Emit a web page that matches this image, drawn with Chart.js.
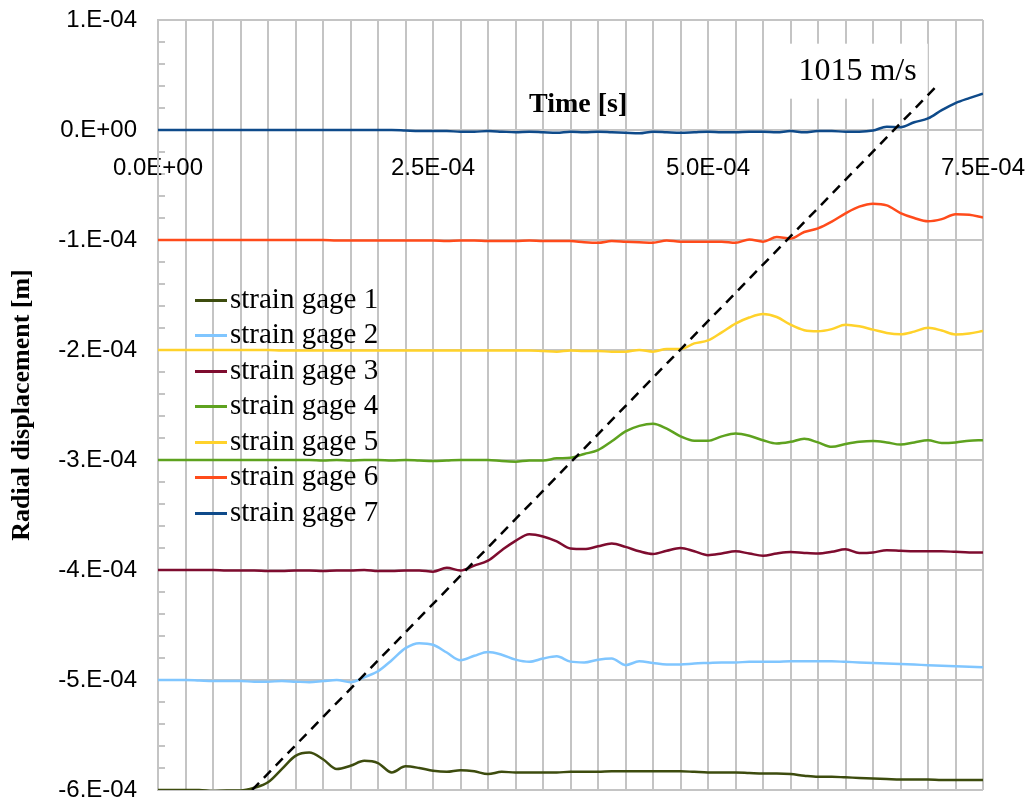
<!DOCTYPE html>
<html>
<head>
<meta charset="utf-8">
<script src="https://cdn.jsdelivr.net/npm/chart.js@4.4.1/dist/chart.umd.min.js"></script>
<style>
  html, body { margin: 0; padding: 0; background: #fff; }
</style>
</head>
<body>
<canvas id="chart" width="1033" height="803"></canvas>
<script>
// time in microseconds, displacement in micrometres (ticks are printed in s and m)
const timeUs = [
  0, 12.5, 25, 37.5, 50, 62.5, 75, 87.5,
  100, 112.5, 125, 137.5, 150, 162.5, 175, 187.5,
  200, 212.5, 225, 237.5, 250, 262.5, 275, 287.5,
  300, 312.5, 325, 337.5, 350, 362.5, 375, 387.5,
  400, 412.5, 425, 437.5, 450, 462.5, 475, 487.5,
  500, 512.5, 525, 537.5, 550, 562.5, 575, 587.5,
  600, 612.5, 625, 637.5, 650, 662.5, 675, 687.5,
  700, 712.5, 725, 737.5, 750
];

const gage1 = [
  -600, -600, -600, -600, -601, -600.5, -600.5, -598,
  -593, -581, -569, -566, -572, -581, -578, -573.5,
  -575.5, -584, -578.5, -580, -582.5, -583.5, -582, -583,
  -585.5, -583.5, -584, -584, -584, -584, -583.5, -583.5,
  -583.5, -583, -583, -583, -583, -583, -583, -583.5,
  -584, -584, -584, -584.5, -585, -585, -585.5, -587,
  -588, -588, -588.5, -589, -589.5, -590, -590.5, -590.5,
  -590.5, -591, -591, -591, -591
];
const gage2 = [
  -500, -500, -500, -500.5, -501, -501, -501, -501.5,
  -501.5, -501, -501.5, -502, -501, -500, -502, -497.5,
  -492, -482, -471, -466.5, -468, -475, -482, -478,
  -474.5, -477, -481.5, -483.5, -480.5, -478.5, -483.3, -484,
  -481.5, -480.5, -486.5, -483, -484.5, -485.8, -485.8, -485,
  -484.5, -484, -484, -483.5, -483.5, -483.5, -483, -483,
  -483, -483, -483.5, -484, -484.5, -485, -485.5, -486,
  -486.5, -487, -487.5, -488, -488.5
];
const gage3 = [
  -400, -400, -400, -400, -400, -400.5, -400.5, -400.5,
  -401, -401, -400.5, -400.5, -401, -400.5, -400.5, -400,
  -401, -401, -400.5, -400.5, -401.5, -398, -400.5, -396,
  -391.5, -382, -373.5, -367.5, -369.5, -374, -380.5, -381,
  -378.5, -376, -379, -383, -385.5, -382.5, -380, -383,
  -386.5, -385, -383, -385, -387, -385, -383.7, -384.5,
  -385, -383.5, -381.2, -384.5, -384, -382, -382.5, -383,
  -383, -383, -383.5, -384, -384
];
const gage4 = [
  -300, -300, -300, -300, -300, -300, -300, -300,
  -300, -300, -300, -300, -300.5, -300, -300.5, -300,
  -300, -300.5, -300, -300.5, -301, -300.5, -300, -300,
  -300, -301, -301.5, -300.5, -300.5, -298.5, -298, -294.5,
  -291, -283, -274, -269, -267, -271.5, -278.5, -282.5,
  -282.5, -278.5, -276, -278, -282, -285, -283.5, -280.7,
  -284, -288, -285.5, -283.5, -282.7, -284, -286, -284,
  -282, -284.5, -284, -282.5, -282
];
const gage5 = [
  -200, -200, -200, -200, -200, -200, -200, -200,
  -200, -200.5, -200.5, -200.5, -200.5, -200.5, -200.5, -200.5,
  -200.5, -200.5, -200.5, -200.5, -200.5, -200.5, -200.5, -200.5,
  -200.5, -200.5, -200.5, -200.5, -201, -201.5, -200.5, -201,
  -201, -201.5, -201.5, -200, -201.5, -199, -199.2, -194,
  -191.3, -184, -176, -170.5, -167.3, -170, -177, -182,
  -183, -181, -177, -178.5, -181.5, -184.5, -185.7, -183.3,
  -179.8, -182.3, -185.8, -185, -182.7
];
const gage6 = [
  -100, -100, -100, -100, -100, -100, -100, -100,
  -100, -100, -100, -100, -100, -100.5, -100.5, -100.5,
  -100.5, -100.5, -100.5, -100.5, -100.5, -101, -100.5, -100.5,
  -101, -101, -101, -100.5, -101, -101, -101, -102,
  -102.5, -101, -101.5, -102, -102.5, -100.5, -101.5, -101.5,
  -101.5, -101.5, -102.5, -99.5, -101.5, -97.3, -98.8, -92.7,
  -89.4, -83.3, -75.8, -69.7, -67, -68.5, -75.5, -80,
  -83, -81, -76.5, -77, -79.5
];
const gage7 = [
  0, 0, 0, 0, 0, 0, 0, 0,
  0, 0, 0, 0, 0, 0, 0, 0,
  0, 0, -0.5, -1, -1, -1, -1.5, -1.5,
  -1, -1.5, -2, -1.5, -2, -2.5, -1.5, -2,
  -1.5, -2, -2.5, -3, -1.5, -2, -2.5, -2,
  -1.5, -2, -2, -1.5, -1.5, -2, -1, -2,
  -1, -1, -1.5, -1.5, -0.5, 3, 2.5, 7,
  10.5, 18, 24.5, 29, 33
];

// dashed wave-front line
const frontT = [85.5, 706];
const frontY = [-600, 38];

const gageNames = ['strain gage 1', 'strain gage 2', 'strain gage 3', 'strain gage 4',
  'strain gage 5', 'strain gage 6', 'strain gage 7'];
const speedLabel = '1015 m/s';
const xTitle = 'Time [s]';
const yTitle = 'Radial displacement [m]';

const gageColors = ['#3d4c0e', '#80c6ff', '#7e0c2f', '#5ea21f', '#ffd22b', '#ff4b1b', '#0e4a8a'];
const GRID = '#c4c4c4';
const SANS = '"Liberation Sans", Arial, sans-serif';
const SERIF = '"Liberation Serif", "Times New Roman", serif';

// 2.5e-4 -> "2.5E-04", 1e-4 with 0 digits -> "1.E-04"
function fmtExp(value, digits) {
  const [m, e] = value.toExponential(digits).split('e');
  const ex = parseInt(e, 10);
  const mant = digits === 0 ? m + '.' : m;
  return mant + 'E' + (ex < 0 ? '-' : '+') + String(Math.abs(ex)).padStart(2, '0');
}

const isMajorY = (v) => Math.round(v) % 100 === 0;

// short line sample for the legend, wider than the legend box itself
function lineSample(color) {
  const c = document.createElement('canvas');
  c.width = 37;
  c.height = 3;
  const g = c.getContext('2d');
  g.fillStyle = color;
  g.fillRect(0, 0, 37, 3);
  return c;
}

const overlay = {
  id: 'overlay',
  afterLayout(chart) {
    // legend sits inside the plot, left side
    const lg = chart.legend;
    lg.left = 195;
    lg.top = 279;
  },
  beforeDatasetsDraw(chart) {
    const {ctx, scales: {x, y}} = chart;
    ctx.save();
    ctx.textAlign = 'center';
    ctx.textBaseline = 'middle';
    ctx.fillStyle = '#000';
    ctx.font = 'bold 28px ' + SERIF;
    ctx.fillText(xTitle, x.getPixelForValue(382), y.getPixelForValue(23));

    ctx.font = '32px ' + SERIF;
    const lx = x.getPixelForValue(636);
    const ly = y.getPixelForValue(53);
    const w = ctx.measureText(speedLabel).width + 22;
    ctx.fillStyle = '#fff';
    ctx.fillRect(lx - w / 2, ly - 28, w, 55);
    ctx.fillStyle = '#000';
    ctx.fillText(speedLabel, lx, ly);
    ctx.restore();
  }
};

Chart.defaults.font.family = SANS;
Chart.defaults.color = '#000';

const gageSeries = [gage1, gage2, gage3, gage4, gage5, gage6, gage7];
const datasets = gageSeries.map((vals, i) => ({
  label: gageNames[i],
  data: timeUs.map((t, j) => ({x: t, y: vals[j]})),
  borderColor: gageColors[i],
  backgroundColor: gageColors[i],
  borderWidth: 2.5,
  pointRadius: 0,
  tension: 0.4,
  cubicInterpolationMode: 'monotone',
  fill: false
}));
datasets.push({
  label: 'front',
  data: frontT.map((t, j) => ({x: t, y: frontY[j]})),
  borderColor: '#000',
  borderWidth: 2.5,
  borderDash: [10, 7],
  pointRadius: 0,
  fill: false,
  order: -1
});

const samples = gageColors.map(lineSample);

new Chart(document.getElementById('chart'), {
  type: 'line',
  data: {datasets},
  plugins: [overlay],
  options: {
    responsive: false,
    animation: false,
    layout: {padding: {left: 0, top: 20, right: 50, bottom: 13}},
    plugins: {
      tooltip: {enabled: false},
      legend: {
        position: 'chartArea',
        align: 'start',
        labels: {
          generateLabels: (chart) => Chart.defaults.plugins.legend.labels.generateLabels(chart)
            .map((item) => Object.assign(item, {pointStyle: samples[item.datasetIndex] || 'line'})),
          filter: (item) => item.datasetIndex < 7,
          usePointStyle: true,
          pointStyleWidth: 14,
          padding: 6.5,
          color: '#000',
          font: {family: SERIF, size: 29}
        }
      }
    },
    scales: {
      x: {
        type: 'linear',
        position: {y: 0},
        min: 0,
        max: 750,
        afterFit: (scale) => { scale.paddingLeft = 0; scale.paddingRight = 0; },
        grid: {color: GRID, lineWidth: 2, drawTicks: false},
        border: {display: true, color: GRID, width: 2},
        ticks: {
          stepSize: 25,
          autoSkip: false,
          maxRotation: 0,
          padding: 24,
          font: {size: 24},
          callback: (v) => (v % 250 === 0 ? fmtExp(v * 1e-6, 1) : '')
        }
      },
      y: {
        type: 'linear',
        position: 'left',
        min: -600,
        max: 100,
        afterFit: (scale) => {
          scale.width = 158;
          scale.paddingTop = 0;
          scale.paddingBottom = 0;
        },
        grid: {
          color: (c) => (c.tick && isMajorY(c.tick.value) ? GRID : 'rgba(0,0,0,0)'),
          tickColor: GRID,
          lineWidth: 2,
          tickWidth: 2,
          tickLength: -7
        },
        border: {display: true, color: GRID, width: 2},
        ticks: {
          stepSize: 20,
          autoSkip: false,
          padding: 28,
          font: {size: 24, lineHeight: 1},
          callback: (v) => (isMajorY(v) ? fmtExp(v * 1e-6, 0) : '')
        },
        title: {
          display: true,
          text: yTitle,
          color: '#000',
          font: {family: SERIF, size: 26, weight: 'bold'},
          padding: {top: 7, bottom: 0}
        }
      }
    }
  }
});
</script>
</body>
</html>
